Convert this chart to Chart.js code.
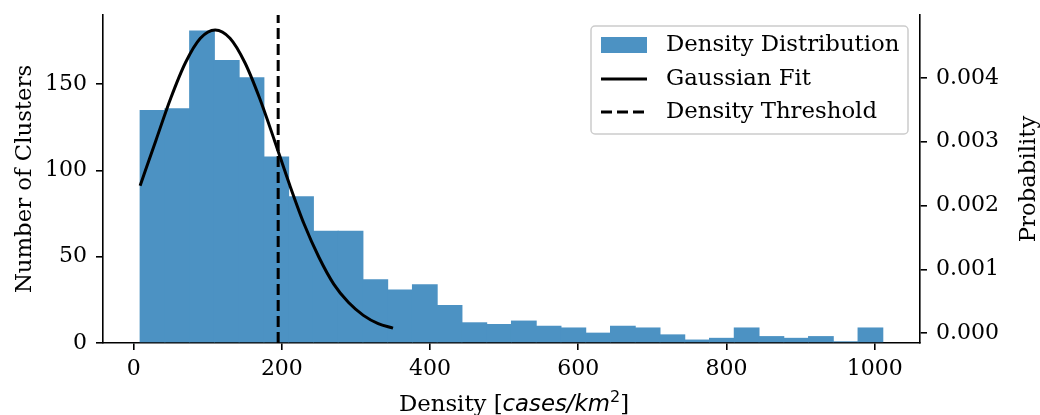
<!DOCTYPE html>
<html>
<head>
<meta charset="utf-8">
<script src="https://cdn.jsdelivr.net/npm/chart.js@4.4.1/dist/chart.umd.min.js"></script>
<style>
  html, body { margin: 0; padding: 0; background: #fff; }
  #wrap { width: 1040px; height: 415px; }
</style>
</head>
<body>
<div id="wrap"><canvas id="mycanvas" width="1040" height="415"></canvas></div>
<script>
// histogram bins (density, cases/km^2)
var binLow = 8.7;
var binWidth = 33.41;
var counts = [135, 136, 181, 164, 154, 108, 85, 65, 65, 37,
              31, 34, 22, 12, 11, 13, 10, 9, 6, 10,
              9, 5, 2, 3, 9, 4, 3, 4, 1, 9];

// gaussian fit (right axis)
var fitX = [8.7, 30, 50, 70, 90, 110, 130, 150, 170, 190, 210, 230, 250, 270, 290, 310, 330, 350];
var fitY = [0.00231, 0.00302, 0.00368, 0.00424, 0.00462, 0.00475, 0.00462, 0.00424, 0.00368,
            0.00302, 0.00234, 0.00171, 0.00119, 0.00077, 0.00048, 0.00028, 0.00015, 0.00008];

var threshold = 195;

var xTicks = [0, 200, 400, 600, 800, 1000];
var countTicks = [0, 50, 100, 150];
var probTicks = [0, 0.001, 0.002, 0.003, 0.004];

var legendNames = ["Density Distribution", "Gaussian Fit", "Density Threshold"];

var barColor = "#4c92c3";
var FONT = '"DejaVu Serif", serif';
var FS = 22.8;   // titles + legend
var TFS = 22;    // tick labels

Chart.defaults.color = "#000";
Chart.defaults.font.family = FONT;
Chart.defaults.font.size = TFS;

var histData = [];
for (var i = 0; i < counts.length; i++) {
  histData.push({ x: binLow + binWidth * (i + 0.5), y: counts[i] });
}
var fitData = [];
for (var j = 0; j < fitX.length; j++) {
  fitData.push({ x: fitX[j], y: fitY[j] });
}

function fixedTicks(list) {
  return function (scale) {
    scale.ticks = list.map(function (v) { return { value: v }; });
  };
}
function fitSize(w, h) {
  return function (s) {
    if (w) s.width = w;
    if (h) s.height = h;
    s.paddingTop = 0; s.paddingBottom = 0; s.paddingLeft = 0; s.paddingRight = 0;
  };
}

var axisGrid = { display: true, offset: false, drawOnChartArea: false, drawTicks: true, tickLength: 7, color: "#000", lineWidth: 1.6 };
var axisBorder = { display: true, color: "#000", width: 1.6 };

var extras = {
  id: "extras",
  afterDraw: function (chart) {
    var ctx = chart.ctx;
    var area = chart.chartArea;
    var midY = (area.top + area.bottom) / 2;
    ctx.save();
    ctx.fillStyle = "#000";

    // axis titles
    ctx.font = FS + "px " + FONT;
    ctx.textAlign = "center";
    ctx.textBaseline = "alphabetic";
    ctx.save();
    ctx.translate(31, midY);
    ctx.rotate(-Math.PI / 2);
    ctx.fillText("Number of Clusters", 0, 0);
    ctx.restore();

    ctx.save();
    ctx.translate(1035, midY);
    ctx.rotate(-Math.PI / 2);
    ctx.fillText("Probability", 0, 0);
    ctx.restore();

    // x title: Density [cases/km^2]
    var parts = [
      { t: "Density [", f: FS + "px " + FONT, dy: 0 },
      { t: "cases/km", f: "italic " + FS + "px 'DejaVu Sans'", dy: 0 },
      { t: "2", f: Math.round(FS * 0.7) + "px 'DejaVu Sans'", dy: -9 },
      { t: "]", f: FS + "px " + FONT, dy: 0 }
    ];
    var total = 0;
    parts.forEach(function (p) { ctx.font = p.f; p.w = ctx.measureText(p.t).width; total += p.w; });
    var px = 514 - total / 2;
    ctx.textAlign = "left";
    parts.forEach(function (p) { ctx.font = p.f; ctx.fillText(p.t, px, 411 + p.dy); px += p.w; });

    // legend
    var lx = 591, ly = 26, lw = 317, lh = 108;
    ctx.beginPath();
    ctx.roundRect(lx, ly, lw, lh, 4);
    ctx.fillStyle = "rgba(255,255,255,0.8)";
    ctx.fill();
    ctx.strokeStyle = "#cccccc";
    ctx.lineWidth = 1.5;
    ctx.stroke();

    var rows = [45, 79, 112];
    ctx.fillStyle = barColor;
    ctx.fillRect(601, rows[0] - 8, 46, 16);
    ctx.strokeStyle = "#000";
    ctx.lineWidth = 3;
    ctx.beginPath();
    ctx.moveTo(601, rows[1]); ctx.lineTo(647, rows[1]);
    ctx.stroke();
    ctx.setLineDash([11, 5]);
    ctx.beginPath();
    ctx.moveTo(601, rows[2]); ctx.lineTo(647, rows[2]);
    ctx.stroke();
    ctx.setLineDash([]);

    ctx.fillStyle = "#000";
    ctx.font = FS + "px " + FONT;
    ctx.textBaseline = "middle";
    for (var k = 0; k < legendNames.length; k++) {
      ctx.fillText(legendNames[k], 666, rows[k]);
    }
    ctx.restore();
  }
};

var ctx = document.getElementById("mycanvas");
new Chart(ctx, {
  type: "bar",
  data: {
    datasets: [
      {
        label: legendNames[0],
        data: histData,
        backgroundColor: barColor,
        borderWidth: 0,
        barPercentage: 1.04,
        categoryPercentage: 1,
        xAxisID: "x",
        yAxisID: "y",
        order: 3
      },
      {
        type: "line",
        label: legendNames[1],
        data: fitData,
        borderColor: "#000",
        borderWidth: 3,
        pointRadius: 0,
        fill: false,
        cubicInterpolationMode: "monotone",
        xAxisID: "x",
        yAxisID: "y2",
        order: 1
      },
      {
        type: "line",
        label: legendNames[2],
        data: [{ x: threshold, y: 0 }, { x: threshold, y: 190.05 }],
        borderColor: "#000",
        borderWidth: 3,
        borderDash: [11, 5],
        pointRadius: 0,
        fill: false,
        xAxisID: "x",
        yAxisID: "y",
        order: 2
      }
    ]
  },
  options: {
    responsive: false,
    devicePixelRatio: 1,
    animation: false,
    layout: { padding: { top: 15, left: 0, right: 0, bottom: 0 } },
    plugins: { legend: { display: false }, tooltip: { enabled: false } },
    scales: {
      x: {
        type: "linear",
        offset: false,
        min: -41.4,
        max: 1061.2,
        grid: axisGrid,
        border: axisBorder,
        afterBuildTicks: fixedTicks(xTicks),
        afterFit: fitSize(0, 72),
        ticks: { padding: 6, maxRotation: 0, callback: function (v) { return String(v); } }
      },
      y: {
        position: "left",
        min: 0,
        max: 190.05,
        grid: axisGrid,
        border: axisBorder,
        afterBuildTicks: fixedTicks(countTicks),
        afterFit: fitSize(103, 0),
        ticks: { padding: 9, callback: function (v) { return String(v); } }
      },
      y2: {
        position: "right",
        min: -0.000153,
        max: 0.004984,
        grid: axisGrid,
        border: axisBorder,
        afterBuildTicks: fixedTicks(probTicks),
        afterFit: fitSize(120, 0),
        ticks: { padding: 9, callback: function (v) { return v.toFixed(3); } }
      }
    }
  },
  plugins: [extras]
});
</script>
</body>
</html>
